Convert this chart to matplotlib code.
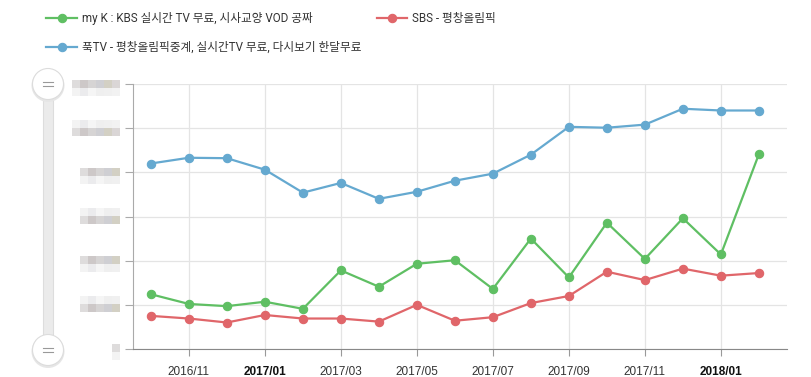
"""
Monthly trend of three streaming services (values read off the reference)
"""
import numpy as np
import matplotlib.pyplot as plt
from matplotlib.patches import Rectangle, Circle, Ellipse
from matplotlib.lines import Line2D

W, H = 812, 377

months = ['2016/10', '2016/11', '2016/12', '2017/01', '2017/02', '2017/03',
          '2017/04', '2017/05', '2017/06', '2017/07', '2017/08', '2017/09',
          '2017/10', '2017/11', '2017/12', '2018/01', '2018/02']

mykbs = [1.24, 1.02, 0.97, 1.07, 0.91, 1.78, 1.41, 1.93, 2.01, 1.36,
         2.50, 1.62, 2.86, 2.04, 2.96, 2.14, 4.41]
sbs = [0.75, 0.69, 0.60, 0.77, 0.69, 0.69, 0.62, 1.00, 0.64, 0.72,
       1.04, 1.20, 1.75, 1.56, 1.82, 1.66, 1.72]
pooq = [4.20, 4.33, 4.32, 4.06, 3.54, 3.76, 3.40, 3.56, 3.81, 3.97,
        4.40, 5.03, 5.01, 5.08, 5.44, 5.40, 5.40]

labels = ['my K : KBS 실시간 TV 무료, 시사교양 VOD 공짜',
          'SBS - 평창올림픽',
          '푹TV - 평창올림픽중계, 실시간TV 무료, 다시보기 한달무료']
colors = ['#5fbf63', '#e0666a', '#65a9d0']

tick_months = ['2016/11', '2017/01', '2017/03', '2017/05', '2017/07',
               '2017/09', '2017/11', '2018/01']
bold_ticks = ['2017/01', '2018/01']

plt.rcParams['font.family'] = ['Roboto', 'Noto Sans CJK KR']


def fx(x):
    return x / W


def fy(y):
    return 1 - y / H


def main():
    fig = plt.figure(figsize=(W / 100, H / 100), dpi=100)
    ax = fig.add_axes([fx(133), fy(349), fx(787) - fx(133), fy(84) - fy(349)])

    x = np.arange(len(months))
    handles = []
    for vals, c in zip([mykbs, sbs, pooq], colors):
        h, = ax.plot(x, vals, color=c, lw=1.6, marker='o', ms=6,
                     mec=c, mew=0.8, zorder=3)
        handles.append(h)

    ax.set_xlim(-0.47, 16.74)
    ax.set_ylim(0, 6)
    ax.set_yticks(range(7))
    ax.set_yticklabels([])
    ticks = [months.index(m) for m in tick_months]
    ax.set_xticks(ticks)
    ax.set_xticklabels(tick_months, fontsize=8.5, color='#333333',
                       family=['Liberation Sans'])
    for lab in ax.get_xticklabels():
        if lab.get_text() in bold_ticks:
            lab.set_fontweight('bold')
            lab.set_color('#111111')
    ax.tick_params(axis='x', length=5, color='#999999', pad=7)
    ax.tick_params(axis='y', length=6, color='#aaaaaa')
    ax.grid(True, color='#e4e4e4', lw=0.9)
    ax.set_axisbelow(True)
    for s in ['top', 'right']:
        ax.spines[s].set_visible(False)
    ax.spines['left'].set_color('#aaaaaa')
    ax.spines['bottom'].set_color('#888888')

    # blurred y labels (pixelated in the reference)
    dark = ['#dedcdc', '#cdc8c8', '#d6d4d4', '#cfcfd3', '#d3d0c4', '#dad6d6']
    light = ['#f3f3f3', '#ebebed', '#f5f5f5', '#efefef', '#f0f0f0', '#f2f2f2']
    rows = [(80, 6, 0), (120, 6, 1), (168, 5, 0), (208, 5, 1),
            (256, 5, 0), (296, 5, 1), (344, 1, 0)]
    for top, n, dark_second in rows:
        for r in range(2):
            pal = dark if (r == 1) == bool(dark_second) else light
            for k in range(n):
                x0 = 120 - 8 * (n - k)
                fig.add_artist(Rectangle((fx(x0), fy(top + 8 * (r + 1))),
                                         fx(8), 8 / H, color=pal[k % 6], lw=0))

    # range slider on the left
    fig.add_artist(Rectangle((fx(43), fy(349)), fx(10), 265 / H,
                             facecolor='#ebebeb', edgecolor='#dddddd', lw=0.8))
    for cy in [84, 350]:
        fig.add_artist(Ellipse((fx(48), fy(cy + 1.5)), fx(33), 33 / H,
                               color='#e6e6e6', lw=0))
        fig.add_artist(Ellipse((fx(48), fy(cy)), fx(31), 31 / H,
                               facecolor='white', edgecolor='#dcdcdc', lw=0.8))
        for dy in (-1.7, 1.7):
            fig.add_artist(Line2D([fx(43), fx(53)], [fy(cy + dy), fy(cy + dy)],
                                  color='#999999', lw=0.8))

    order = [0, 2, 1]
    fig.legend([handles[i] for i in order], [labels[i] for i in order],
               ncol=2, loc='upper left', bbox_to_anchor=(fx(36), fy(2)),
               frameon=False, fontsize=8.4, handlelength=2.6, handletextpad=0.45,
               columnspacing=1.3, labelspacing=1.35, labelcolor='#333333')

    fig.savefig('out.png', dpi=100)


if __name__ == '__main__':
    main()
